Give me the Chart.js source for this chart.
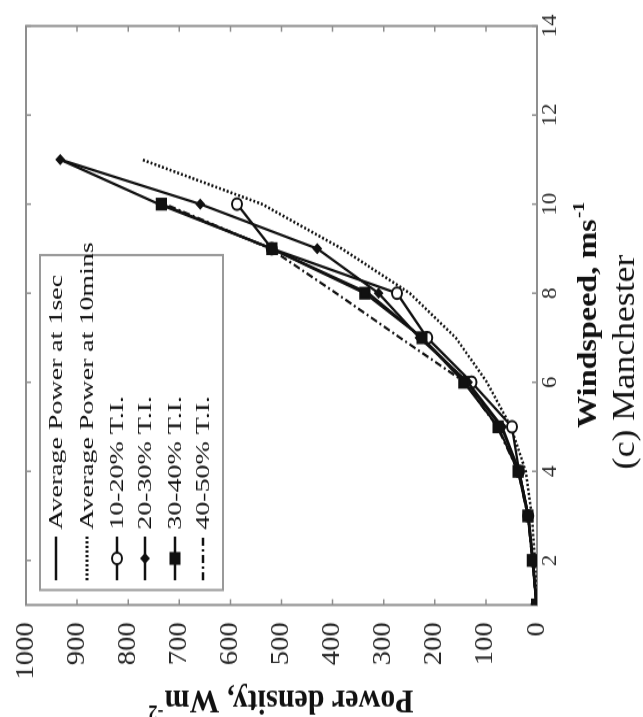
<!DOCTYPE html>
<html>
<head>
<meta charset="utf-8">
<script src="https://cdn.jsdelivr.net/npm/chart.js@4.4.1/dist/chart.umd.min.js"></script>
<style>
  html, body { margin: 0; padding: 0; background: #fff; overflow: hidden; }
  body { width: 643px; height: 717px; position: relative; }
  /* figure is laid out landscape, then turned on its side */
  #wrap {
    position: absolute; left: 0; top: 0;
    width: 624px; height: 643px;
    transform-origin: 0 0;
    transform: translate(0px, 717px) rotate(-90deg) scale(1.149, 1);
  }
</style>
</head>
<body>
<div id="wrap"><canvas id="powerChart" width="624" height="643" style="width:624px;height:643px"></canvas></div>
<script>
// ============================================
// DATA
// ============================================

const windspeed = [1, 2, 3, 4, 5, 6, 7, 8, 9, 10, 11];

const avgPower1sec  = [1, 8, 17, 35, 70, 138, 225, 330, 519, 740, 933];
const avgPower10min = [0, 4, 10, 22, 51, 98, 159, 249, 382, 538, 773];
const ti10to20      = [1, 8, 17, 35, 49, 128, 215, 274, 519, 587, null];
const ti20to30      = [1, 8, 17, 35, 68, 135, 230, 310, 430, 659, 933];
const ti30to40      = [1, 9, 18, 37, 76, 143, 225, 337, 519, 735, null];
const ti40to50      = [1, 9, 18, 37, 78, 141, 268, 393, 522, 728, null];

const windTicks  = [2, 4, 6, 8, 10, 12, 14];
const powerTicks = [0, 100, 200, 300, 400, 500, 600, 700, 800, 900, 1000];

const seriesLabels = [
    'Average Power at 1sec',
    'Average Power at 10mins',
    '10-20% T.I.',
    '20-30% T.I.',
    '30-40% T.I.',
    '40-50% T.I.'
];

// ============================================
// STYLES
// ============================================

const SERIF = '"Liberation Serif", "Times New Roman", serif';
const INK = '#111';
const FRAME = '#8f8f8f';

// order: lower numbers are painted last, so the filled squares sit on top
const seriesStyles = [
    { dash: [], width: 2.3, point: false, order: 3 },
    { dash: [2, 2], width: 2.5, point: false, order: 4 },
    { dash: [], width: 2.3, point: 'circle', radius: 5, fill: '#fff', order: 2 },
    { dash: [], width: 2.3, point: 'rectRot', radius: 3.5, fill: INK, order: 1 },
    { dash: [], width: 2.3, point: 'rect', radius: 6.5, fill: INK, order: 0 },
    { dash: [7, 3, 2, 3], width: 2.2, point: false, order: 5 }
];

function toPoints(values) {
    return windspeed.map((w, i) => ({ x: w, y: values[i] }));
}

function makeDataset(label, values, style) {
    return {
        label,
        data: toPoints(values),
        order: style.order,
        borderColor: INK,
        borderWidth: style.width,
        borderDash: style.dash,
        pointStyle: style.point || 'circle',
        pointRadius: style.point ? style.radius : 0,
        pointBackgroundColor: style.fill || INK,
        pointBorderColor: INK,
        pointBorderWidth: 2,
        tension: 0,
        spanGaps: false
    };
}

const allValues = [avgPower1sec, avgPower10min, ti10to20, ti20to30, ti30to40, ti40to50];

// ============================================
// PLUGINS
// ============================================

// Box around the plot with inward tick marks on all four sides
const framePlugin = {
    id: 'frame',
    beforeDatasetsDraw(chart) {
        const { ctx, chartArea: a, scales } = chart;
        ctx.save();
        ctx.strokeStyle = FRAME;
        ctx.lineWidth = 2;
        ctx.strokeRect(a.left, a.top, a.right - a.left, a.bottom - a.top);
        ctx.lineWidth = 1.5;
        const len = 5;
        ctx.beginPath();
        windTicks.forEach(v => {
            const px = scales.x.getPixelForValue(v);
            ctx.moveTo(px, a.bottom); ctx.lineTo(px, a.bottom - len);
            ctx.moveTo(px, a.top); ctx.lineTo(px, a.top + len);
        });
        powerTicks.forEach(v => {
            const py = scales.y.getPixelForValue(v);
            ctx.moveTo(a.left, py); ctx.lineTo(a.left + len, py);
            ctx.moveTo(a.right, py); ctx.lineTo(a.right - len, py);
        });
        ctx.stroke();
        ctx.restore();
    }
};

// Draws "main" followed by a raised "sup", centred on (x, y)
function drawWithSup(ctx, main, sup, x, y, size, bold, rotation) {
    const weight = bold ? 'bold ' : '';
    ctx.save();
    ctx.translate(x, y);
    ctx.rotate(rotation || 0);
    ctx.fillStyle = INK;
    ctx.textBaseline = 'alphabetic';
    ctx.font = weight + size + 'px ' + SERIF;
    const wMain = ctx.measureText(main).width;
    ctx.font = weight + Math.round(size * 0.6) + 'px ' + SERIF;
    const wSup = ctx.measureText(sup).width;
    const start = -(wMain + wSup) / 2;
    const base = size * 0.33;
    ctx.font = weight + size + 'px ' + SERIF;
    ctx.textAlign = 'left';
    ctx.fillText(main, start, base);
    ctx.font = weight + Math.round(size * 0.6) + 'px ' + SERIF;
    ctx.fillText(sup, start + wMain + 1, base - size * 0.42);
    ctx.restore();
}

const titlesPlugin = {
    id: 'titles',
    afterDraw(chart) {
        const { ctx, chartArea: a } = chart;
        const cx = (a.left + a.right) / 2;
        const cy = (a.top + a.bottom) / 2;
        drawWithSup(ctx, 'Windspeed, ms', '-1', cx, 587, 28, true, 0);
        drawWithSup(ctx, 'Power density, Wm', '-2', 13, cy, 30, true, -Math.PI / 2);

        ctx.save();
        ctx.fillStyle = INK;
        ctx.font = '31px ' + SERIF;
        ctx.textAlign = 'center';
        ctx.textBaseline = 'middle';
        ctx.fillText('(c) Manchester', 309, 626);
        ctx.restore();
    }
};

// Legend box in the upper-left corner of the plot
const legendBoxPlugin = {
    id: 'legendBox',
    afterDatasetsDraw(chart) {
        const { ctx } = chart;
        const box = { left: 110.5, top: 40, right: 402, bottom: 223 };
        const rows = [56, 87, 117, 145, 175, 203];
        const lineStart = 119, lineEnd = 157, textX = 163;

        ctx.save();
        ctx.fillStyle = '#fff';
        ctx.fillRect(box.left, box.top, box.right - box.left, box.bottom - box.top);
        ctx.strokeStyle = '#9a9a9a';
        ctx.lineWidth = 2;
        ctx.strokeRect(box.left, box.top, box.right - box.left, box.bottom - box.top);

        chart.data.datasets.forEach((ds, i) => {
            const y = rows[i];
            ctx.strokeStyle = INK;
            ctx.lineWidth = ds.borderWidth + 0.4;
            ctx.setLineDash(ds.borderDash);
            ctx.beginPath();
            ctx.moveTo(lineStart, y);
            ctx.lineTo(lineEnd, y);
            ctx.stroke();
            ctx.setLineDash([]);
            if (ds.pointRadius > 0) {
                ctx.fillStyle = ds.pointBackgroundColor;
                ctx.lineWidth = ds.pointBorderWidth;
                Chart.helpers.drawPoint(ctx, {
                    pointStyle: ds.pointStyle,
                    radius: ds.pointRadius,
                    rotation: 0,
                    borderWidth: ds.pointBorderWidth
                }, (lineStart + lineEnd) / 2, y);
            }
            ctx.save();
            ctx.translate(textX, y);
            ctx.scale(1.28, 1);
            ctx.fillStyle = INK;
            ctx.font = '19px ' + SERIF;
            ctx.textBaseline = 'middle';
            ctx.fillText(ds.label, 0, 1);
            ctx.restore();
        });
        ctx.restore();
    }
};

// ============================================
// CHART
// ============================================

const canvas = document.getElementById('powerChart');

const chart = new Chart(canvas.getContext('2d'), {
    type: 'line',
    data: {
        datasets: seriesLabels.map((label, i) => makeDataset(label, allValues[i], seriesStyles[i]))
    },
    options: {
        responsive: false,
        devicePixelRatio: 1,
        animation: false,
        layout: { padding: { top: 26, right: 22.6, left: 0, bottom: 0 } },
        plugins: {
            legend: { display: false },
            tooltip: { enabled: false }
        },
        scales: {
            x: {
                type: 'linear',
                min: 1,
                max: 14,
                afterBuildTicks: scale => {
                    scale.ticks = windTicks.map(v => ({ value: v }));
                },
                afterFit: scale => { scale.height = 106; },
                grid: { display: false },
                border: { display: false },
                ticks: {
                    color: '#2a2a2a',
                    padding: -6,
                    maxRotation: 0,
                    font: { family: SERIF, size: 20 },
                    callback: v => String(v)
                }
            },
            y: {
                type: 'linear',
                min: 0,
                max: 1000,
                afterBuildTicks: scale => {
                    scale.ticks = powerTicks.map(v => ({ value: v }));
                },
                afterFit: scale => { scale.width = 97.5; },
                grid: { display: false },
                border: { display: false },
                ticks: {
                    color: '#2a2a2a',
                    padding: 7,
                    font: { family: SERIF, size: 25 },
                    callback: v => String(v)
                }
            }
        }
    },
    plugins: [framePlugin, legendBoxPlugin, titlesPlugin]
});
</script>
</body>
</html>
